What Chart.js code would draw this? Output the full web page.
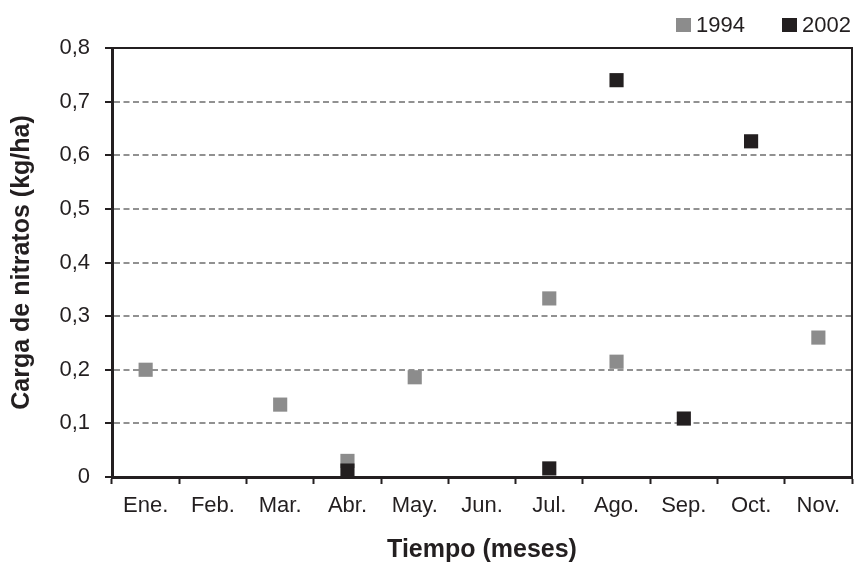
<!DOCTYPE html>
<html>
<head>
<meta charset="utf-8">
<script src="https://cdn.jsdelivr.net/npm/chart.js@4.4.1/dist/chart.umd.min.js"></script>
<style>
  body { margin: 0; background: #fff; }
  #wrap { position: relative; width: 855px; height: 563px; }
  .legend { position: absolute; top: 12px; font: 22px "Liberation Sans", Arial, sans-serif; color: #231f20; display: flex; align-items: center; }
  .legend i { display: inline-block; width: 15px; height: 14px; margin-right: 5px; }
</style>
</head>
<body>
<div id="wrap">
  <canvas id="chart" width="855" height="563"></canvas>
  <div class="legend" style="left:676px"><i style="background:#8c8c8c"></i>1994</div>
  <div class="legend" style="left:782px"><i style="background:#231f20"></i>2002</div>
</div>
<script>
const months = ["Ene.", "Feb.", "Mar.", "Abr.", "May.", "Jun.", "Jul.", "Ago.", "Sep.", "Oct.", "Nov."];
const load1994 = [0.200, null, 0.135, 0.030, 0.186, null, 0.333, 0.215, null, null, 0.260];
const load2002 = [null, null, null, 0.012, null, null, 0.016, 0.740, 0.109, 0.626, null];
const yTickLabels = ["0", "0,1", "0,2", "0,3", "0,4", "0,5", "0,6", "0,7", "0,8"];

const INK = "#231f20";
const GREY = "#8c8c8c";
const FONT = "'Liberation Sans', Arial, sans-serif";

// top + right frame lines, the axis borders only cover left and bottom
const frame = {
    id: "frame",
    afterDraw(chart) {
        const { ctx, chartArea: a } = chart;
        ctx.save();
        ctx.strokeStyle = INK;
        ctx.lineWidth = 2;
        ctx.beginPath();
        ctx.moveTo(a.left, a.top);
        ctx.lineTo(a.right, a.top);
        ctx.lineTo(a.right, a.bottom);
        ctx.stroke();
        ctx.restore();
    },
};

new Chart(document.getElementById("chart"), {
    type: "line",
    data: {
        labels: months,
        datasets: [
            {
                label: "2002",
                data: load2002,
                order: 0,
                showLine: false,
                pointStyle: "rect",
                pointRadius: 10,
                pointBorderWidth: 0,
                pointBackgroundColor: INK,
                borderColor: INK,
            },
            {
                label: "1994",
                data: load1994,
                order: 1,
                showLine: false,
                pointStyle: "rect",
                pointRadius: 10,
                pointBorderWidth: 0,
                pointBackgroundColor: GREY,
                borderColor: GREY,
            },
        ],
    },
    options: {
        responsive: false,
        animation: false,
        layout: { autoPadding: false, padding: { left: 0, right: 3, top: 48, bottom: 0 } },
        plugins: {
            legend: { display: false },
            tooltip: { enabled: false },
        },
        scales: {
            x: {
                offset: true,
                afterFit: s => {
                    s.height = 86;
                    s.paddingLeft = 0;
                    s.paddingRight = 0;
                },
                grid: {
                    offset: true,
                    drawOnChartArea: false,
                    tickLength: 7,
                    tickColor: INK,
                    tickWidth: 2,
                },
                border: { color: INK, width: 3 },
                ticks: {
                    color: INK,
                    padding: 9,
                    maxRotation: 0,
                    autoSkip: false,
                    font: { family: FONT, size: 22 },
                },
                title: {
                    display: true,
                    text: "Tiempo (meses)",
                    color: INK,
                    padding: { top: 0, bottom: 0 },
                    font: { family: FONT, size: 25, weight: "bold", lineHeight: 1 },
                },
            },
            y: {
                min: 0,
                max: 0.8,
                afterFit: s => { s.width = 112; },
                grid: {
                    color: c => (c.tick && c.tick.value > 0.001 && c.tick.value < 0.799 ? "#919191" : "rgba(0,0,0,0)"),
                    lineWidth: 2,
                    tickLength: 7,
                    tickColor: INK,
                    tickWidth: 2,
                },
                border: { color: INK, width: 3, dash: [6, 3.5] },
                ticks: {
                    stepSize: 0.1,
                    color: INK,
                    padding: 15,
                    font: { family: FONT, size: 22 },
                    callback: (v, i) => yTickLabels[i],
                },
                title: {
                    display: true,
                    text: "Carga de nitratos (kg/ha)",
                    color: INK,
                    padding: { top: 10, bottom: 0 },
                    font: { family: FONT, size: 25, weight: "bold", lineHeight: 1 },
                },
            },
        },
    },
    plugins: [frame],
});
</script>
</body>
</html>
